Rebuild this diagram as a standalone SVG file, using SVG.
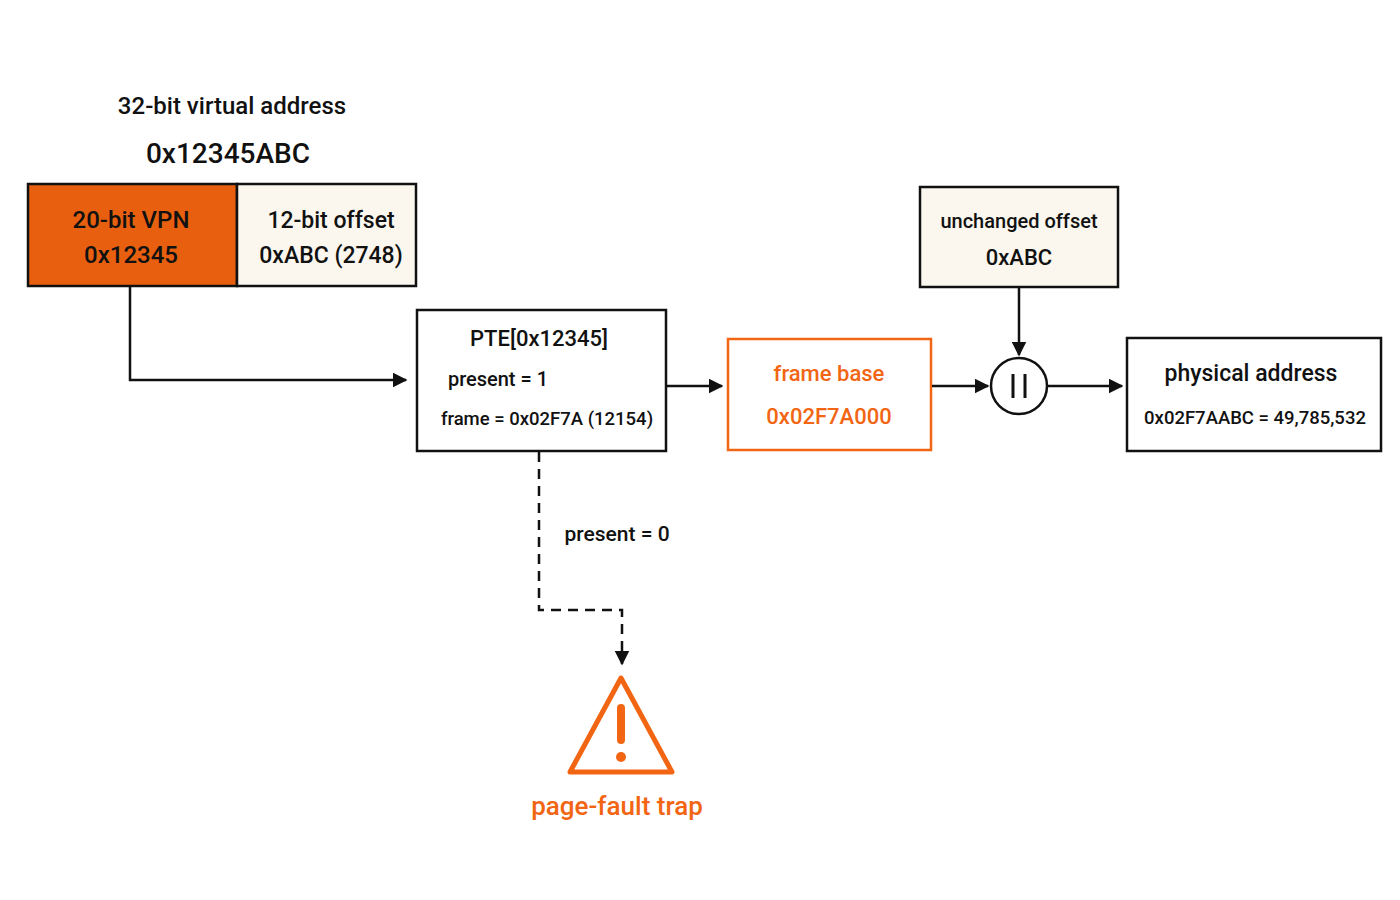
<svg xmlns="http://www.w3.org/2000/svg" width="1400" height="900" viewBox="0 0 1400 900">
<style>
text{font-family:"Roboto","Liberation Sans",sans-serif;fill:#111;text-anchor:middle;font-weight:500}
.b{stroke:#111;stroke-width:2.5;fill:#fff}
.c{stroke:#111;stroke-width:2.5;fill:none}
.o{fill:#f26513}
</style>
<defs>
<marker id="a" viewBox="0 0 10 10" refX="9" refY="5" markerWidth="6" markerHeight="6" orient="auto"><path d="M0,0L10,5L0,10z" fill="#111"/></marker>
</defs>
<rect width="1400" height="900" fill="#fff"/>
<g id="title">
<text x="232" y="114" font-size="24" font-weight="bold">32-bit virtual address</text>
<text x="228" y="163" font-size="28" font-weight="bold">0x12345ABC</text>
</g>
<g id="vpn">
<rect x="28" y="184" width="209" height="102" fill="#e8600f" stroke="#111" stroke-width="2.5"/>
<text x="131" y="228" font-size="24">20-bit VPN</text>
<text x="131" y="263" font-size="24">0x12345</text>
</g>
<g id="offset">
<rect x="237" y="184" width="179" height="102" fill="#fbf7ee" stroke="#111" stroke-width="2.5"/>
<text x="331" y="228" font-size="23">12-bit offset</text>
<text x="331" y="263" font-size="23">0xABC (2748)</text>
</g>
<g id="pte">
<rect class="b" x="417" y="310" width="249" height="141"/>
<text x="539" y="346" font-size="22">PTE[0x12345]</text>
<text x="498" y="386" font-size="20">present = 1</text>
<text x="547" y="425" font-size="18.5">frame = 0x02F7A (12154)</text>
</g>
<g id="framebase">
<rect x="728" y="339" width="203" height="111" fill="#fff" stroke="#f26513" stroke-width="2.5"/>
<text class="o" x="829" y="381" font-size="22">frame base</text>
<text class="o" x="829" y="424" font-size="22">0x02F7A000</text>
</g>
<g id="unchanged">
<rect x="920" y="187" width="198" height="100" fill="#fbf7ee" stroke="#111" stroke-width="2.5"/>
<text x="1019" y="228" font-size="20">unchanged offset</text>
<text x="1019" y="265" font-size="22">0xABC</text>
</g>
<g id="concat">
<circle cx="1019" cy="386" r="28" class="b"/>
<path d="M1013,374V398M1025,374V398" stroke="#111" stroke-width="3"/>
</g>
<g id="physical">
<rect class="b" x="1127" y="338" width="254" height="113"/>
<text x="1251" y="381" font-size="23">physical address</text>
<text x="1255" y="424" font-size="18.5">0x02F7AABC = 49,785,532</text>
</g>
<g id="fault">
<path d="M621,678 L672,772 L570,772 Z" fill="none" stroke="#f26513" stroke-width="5" stroke-linejoin="round"/>
<rect x="617" y="704" width="8" height="40" rx="4" fill="#f26513"/>
<circle cx="621" cy="757" r="5" fill="#f26513"/>
<text class="o" x="617" y="815" font-size="26" font-weight="bold">page-fault trap</text>
</g>
<g id="connectors">
<path class="c" d="M130,287 V380 H406" marker-end="url(#a)"/>
<path class="c" d="M667,386 H722" marker-end="url(#a)"/>
<path class="c" d="M932,386 H988" marker-end="url(#a)"/>
<path class="c" d="M1019,288 V355" marker-end="url(#a)"/>
<path class="c" d="M1048,386 H1122" marker-end="url(#a)"/>
<path class="c" d="M539,452 V610 H622 V664" stroke-dasharray="10,7" marker-end="url(#a)"/>
<text x="617" y="541" font-size="21">present = 0</text>
</g>
</svg>
